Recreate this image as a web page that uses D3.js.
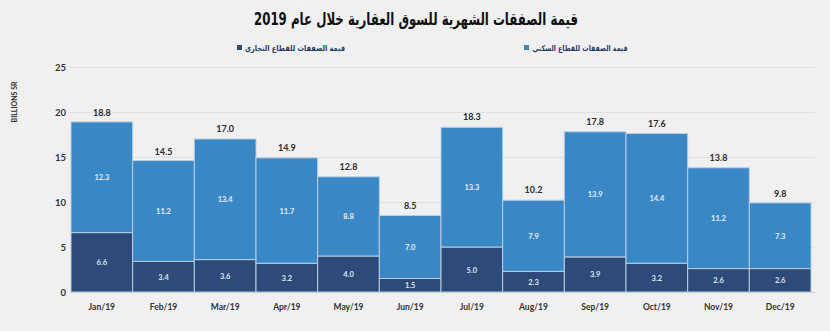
<!DOCTYPE html>
<html>
<head>
<meta charset="utf-8">
<style>
  body { margin: 0; background: #f0f0f0; }
  svg { display: block; }
</style>
</head>
<body>
<script src="https://d3js.org/d3.v7.min.js"></script>
<script>
var months = ["Jan/19","Feb/19","Mar/19","Apr/19","May/19","Jun/19","Jul/19","Aug/19","Sep/19","Oct/19","Nov/19","Dec/19"];
var commercial = [6.6,3.4,3.6,3.2,4.0,1.5,5.0,2.3,3.9,3.2,2.6,2.6];
var residential = [12.3,11.2,13.4,11.7,8.8,7.0,13.3,7.9,13.9,14.4,11.2,7.3];
var totals = [18.8,14.5,17.0,14.9,12.8,8.5,18.3,10.2,17.8,17.6,13.8,9.8];
var yTicks = [0,5,10,15,20,25];

var width = 830, height = 331;
var dark = "#2d4a78", light = "#3a87c5";
var arabic = "'DejaVu Sans', sans-serif";
var latin = "Lato, 'Open Sans', sans-serif";

var svg = d3.select("body").append("svg")
    .attr("width", width)
    .attr("height", height);

svg.append("rect")
    .attr("width", width).attr("height", height)
    .attr("fill", "#f0f0f0");

var x = d3.scaleBand().domain(months).range([71, 811]).padding(0);
var y = d3.scaleLinear().domain([0, 25]).range([292, 67]);

// gridlines
svg.append("g").selectAll("line")
    .data(yTicks)
  .enter().append("line")
    .attr("x1", 70).attr("x2", 815)
    .attr("y1", d => y(d) + 0.5).attr("y2", d => y(d) + 0.5)
    .attr("stroke", d => d === 0 ? "#cfcfcf" : "#e0e0e0")
    .attr("stroke-width", 1);

// y tick labels
svg.append("g").selectAll("text")
    .data(yTicks)
  .enter().append("text")
    .attr("x", 66).attr("y", d => y(d) + 3.5)
    .attr("text-anchor", "end")
    .attr("font-family", latin).attr("font-weight", "bold")
    .attr("font-size", 9.5).attr("fill", "#333")
    .text(d => d);

svg.append("text")
    .attr("transform", "translate(17,102) rotate(-90)")
    .attr("text-anchor", "middle")
    .attr("font-family", latin).attr("font-weight", "bold")
    .attr("font-size", 7).attr("fill", "#333")
    .text("BILLIONS SR");

var rows = months.map((m, i) => ({ m: m, c: commercial[i], r: residential[i], t: totals[i] }));

var bars = svg.append("g").selectAll("g")
    .data(rows)
  .enter().append("g");

bars.append("rect")
    .attr("x", d => x(d.m)).attr("width", x.bandwidth())
    .attr("y", d => y(d.c)).attr("height", d => y(0) - y(d.c))
    .attr("fill", dark).attr("stroke", "#b9cde3").attr("stroke-width", 1);

bars.append("rect")
    .attr("x", d => x(d.m)).attr("width", x.bandwidth())
    .attr("y", d => y(d.c + d.r)).attr("height", d => y(d.c) - y(d.c + d.r))
    .attr("fill", light).attr("stroke", "#b9cde3").attr("stroke-width", 1);

// segment values
bars.append("text")
    .attr("x", d => x(d.m) + x.bandwidth() / 2)
    .attr("y", d => (y(0) + y(d.c)) / 2 + 3)
    .attr("text-anchor", "middle")
    .attr("font-family", latin).attr("font-weight", "bold")
    .attr("font-size", 7.5).attr("fill", "#dce7f3")
    .text(d => d.c.toFixed(1));

bars.append("text")
    .attr("x", d => x(d.m) + x.bandwidth() / 2)
    .attr("y", d => (y(d.c) + y(d.c + d.r)) / 2 + 3)
    .attr("text-anchor", "middle")
    .attr("font-family", latin).attr("font-weight", "bold")
    .attr("font-size", 7.5).attr("fill", "#e6eef7")
    .text(d => d.r.toFixed(1));

// totals above bars
bars.append("text")
    .attr("x", d => x(d.m) + x.bandwidth() / 2)
    .attr("y", d => y(d.t) - 7)
    .attr("text-anchor", "middle")
    .attr("font-family", latin).attr("font-weight", "bold")
    .attr("font-size", 9).attr("fill", "#2b2b2b")
    .text(d => d.t.toFixed(1));

// x axis labels
svg.append("g").selectAll("text")
    .data(months)
  .enter().append("text")
    .attr("x", d => x(d) + x.bandwidth() / 2)
    .attr("y", 310)
    .attr("text-anchor", "middle")
    .attr("font-family", latin).attr("font-weight", "bold")
    .attr("font-size", 8.5).attr("fill", "#333")
    .text(d => d);

// title (DejaVu's Arabic is wide, so squeeze it to the title width)
svg.append("text")
    .attr("x", 416).attr("y", 25)
    .attr("text-anchor", "middle")
    .attr("font-family", arabic).attr("font-weight", "bold")
    .attr("font-size", 17).attr("fill", "#111")
    .attr("textLength", 324).attr("lengthAdjust", "spacingAndGlyphs")
    .text("قيمة الصفقات الشهرية للسوق العقارية خلال عام 2019");

// legend
var legend = [
  { label: "قيمة الصفقات للقطاع التجاري", color: dark, sx: 237, cx: 295, w: 100 },
  { label: "قيمة الصفقات للقطاع السكني", color: light, sx: 524, cx: 580, w: 95 }
];
var lg = svg.append("g").selectAll("g").data(legend).enter().append("g");
lg.append("rect")
    .attr("x", d => d.sx).attr("y", 45)
    .attr("width", 5).attr("height", 5)
    .attr("fill", d => d.color);
lg.append("text")
    .attr("x", d => d.cx).attr("y", 51)
    .attr("text-anchor", "middle")
    .attr("font-family", arabic).attr("font-weight", "bold")
    .attr("font-size", 8).attr("fill", "#1f3a64")
    .attr("textLength", d => d.w).attr("lengthAdjust", "spacingAndGlyphs")
    .text(d => d.label);
</script>
</body>
</html>
